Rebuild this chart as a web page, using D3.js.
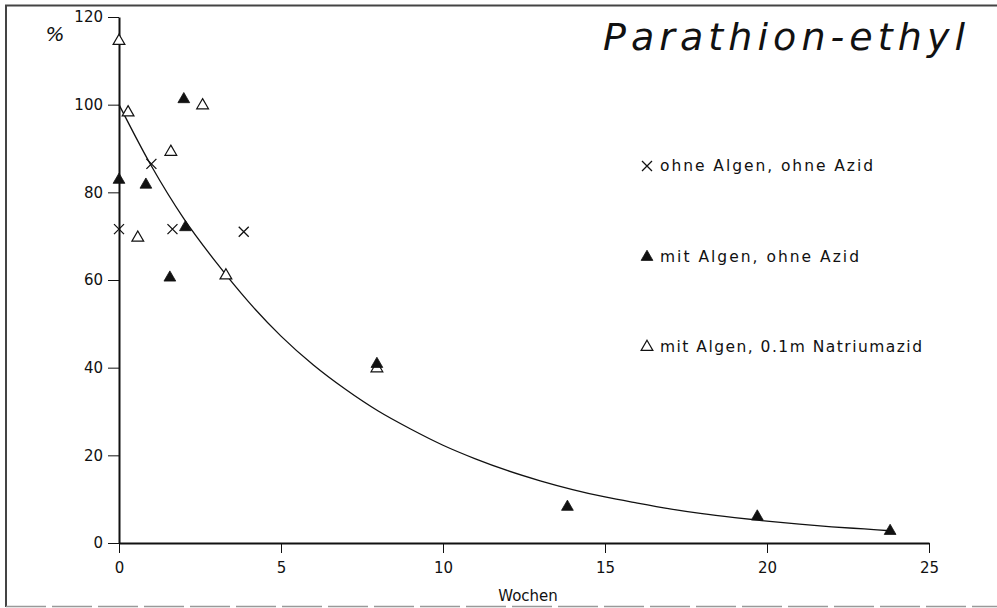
<!DOCTYPE html>
<meta charset="utf-8">
<script src="https://d3js.org/d3.v7.min.js"></script>
<style>
  body { margin: 0; background: #fff; }
  text { font-family: "DejaVu Sans", sans-serif; fill: #111; }
</style>
<div id="chart"></div>
<script>

// data
var xTicks = [0, 5, 10, 15, 20, 25];
var yTicks = [0, 20, 40, 60, 80, 100, 120];

// ohne Algen, ohne Azid (x)
var crossX = [0, 1.0, 1.65, 3.85];
var crossY = [71.6, 86.5, 71.6, 71];

// mit Algen, ohne Azid (filled triangle)
var fullX = [0, 0.83, 2.0, 2.05, 1.57, 7.96, 13.84, 19.7, 23.8];
var fullY = [82.6, 81.5, 101, 71.8, 60.3, 40.6, 8, 5.8, 2.5];

// mit Algen, 0.1m Natriumazid (open triangle)
var openX = [0, 0.28, 0.58, 1.6, 2.58, 3.3, 7.96];
var openY = [114.3, 98, 69.4, 89, 99.6, 60.8, 39.6];

// fitted curve, read at whole weeks
var curveX = [0, 1, 2, 3, 4, 5, 6, 7, 8, 9, 10, 11, 12, 13, 14, 15, 16, 17, 18, 19, 20, 21, 22, 23, 23.8];
var curveY = [100, 86, 74, 64, 55, 47.2, 40.6, 35, 30.1, 26, 22.3, 19.2, 16.5, 14.2, 12.2, 10.5, 9.1, 7.8, 6.7, 5.8, 5, 4.3, 3.7, 3.2, 2.8];

var legendLabels = ["ohne Algen, ohne Azid", "mit Algen, ohne Azid", "mit Algen, 0.1m Natriumazid"];

var W = 997, H = 608;
var svg = d3.select("#chart").append("svg")
    .attr("width", W)
    .attr("height", H);

// outer frame (left, top, bottom)
svg.append("path")
    .attr("d", "M6,607V5.5H997")
    .attr("fill", "none")
    .attr("stroke", "#444")
    .attr("stroke-width", 2);
svg.append("line")
    .attr("x1", 6).attr("x2", 997).attr("y1", 606.5).attr("y2", 606.5)
    .attr("stroke", "#999")
    .attr("stroke-width", 1.5)
    .attr("stroke-dasharray", "40,6");

var x = d3.scaleLinear().domain([0, 25]).range([119, 929]);
var y = d3.scaleLinear().domain([0, 120]).range([543, 17]);

// axes
var gx = svg.append("g")
    .attr("transform", "translate(0," + y(0) + ")")
    .call(d3.axisBottom(x).tickValues(xTicks).tickSize(10).tickPadding(9).tickSizeOuter(0));
var gy = svg.append("g")
    .attr("transform", "translate(" + x(0) + ",0)")
    .call(d3.axisLeft(y).tickValues(yTicks).tickSize(11).tickPadding(5).tickSizeOuter(0));

[gx, gy].forEach(function(g) {
  g.select(".domain").attr("stroke", "#111").attr("stroke-width", 2);
  g.selectAll(".tick line").attr("stroke", "#111").attr("stroke-width", 1);
  g.selectAll(".tick text")
    .attr("font-family", "DejaVu Sans, sans-serif")
    .attr("font-size", 15)
    .attr("fill", "#111");
});

// axis titles
svg.append("text")
    .attr("x", 528).attr("y", 601)
    .attr("text-anchor", "middle")
    .attr("font-size", 15)
    .text("Wochen");
svg.append("text")
    .attr("x", 55).attr("y", 41)
    .attr("text-anchor", "middle")
    .attr("font-size", 20)
    .attr("font-style", "italic")
    .attr("font-weight", 300)
    .attr("font-family", "Roboto, sans-serif")
    .text("%");

// chart title
svg.append("text")
    .attr("x", 603).attr("y", 50)
    .attr("font-family", "'DejaVu Sans ExtraLight', Roboto, sans-serif")
    .attr("font-weight", 200)
    .attr("font-style", "italic")
    .attr("font-size", 38)
    .attr("textLength", 362)
    .attr("lengthAdjust", "spacing")
    .text("Parathion-ethyl");

// curve
svg.append("path")
    .datum(d3.zip(curveX, curveY))
    .attr("fill", "none")
    .attr("stroke", "#111")
    .attr("stroke-width", 1.3)
    .attr("d", d3.line()
      .x(function(d) { return x(d[0]); })
      .y(function(d) { return y(d[1]); })
      .curve(d3.curveMonotoneX));

// markers
var tri = d3.symbol().type(d3.symbolTriangle).size(60);
var crossPath = "M-5,-5L5,5M-5,5L5,-5";

function drawCross(g, cx, cy) {
  g.append("path")
    .attr("transform", "translate(" + cx + "," + cy + ")")
    .attr("d", crossPath)
    .attr("stroke", "#111")
    .attr("stroke-width", 1.3)
    .attr("fill", "none");
}
function drawTri(g, cx, cy, filled) {
  g.append("path")
    .attr("transform", "translate(" + cx + "," + (cy - 1) + ")")
    .attr("d", tri())
    .attr("fill", filled ? "#111" : "#fff")
    .attr("stroke", "#111")
    .attr("stroke-width", filled ? 0.8 : 1.2);
}

var marks = svg.append("g");
crossX.forEach(function(v, i) { drawCross(marks, x(v), y(crossY[i])); });
openX.forEach(function(v, i) { drawTri(marks, x(v), y(openY[i]), false); });
fullX.forEach(function(v, i) { drawTri(marks, x(v), y(fullY[i]), true); });

// legend
var legendY = [166, 257, 347];
var legendLen = [213, 199, 262];
legendLabels.forEach(function(label, i) {
  if (i === 0) drawCross(svg, 647, legendY[i]);
  else drawTri(svg, 647, legendY[i] + 1, i === 1);
  svg.append("text")
    .attr("x", 660).attr("y", legendY[i] + 5)
    .attr("font-size", 15.5)
    .attr("textLength", legendLen[i])
    .attr("lengthAdjust", "spacing")
    .text(label);
});

</script>
